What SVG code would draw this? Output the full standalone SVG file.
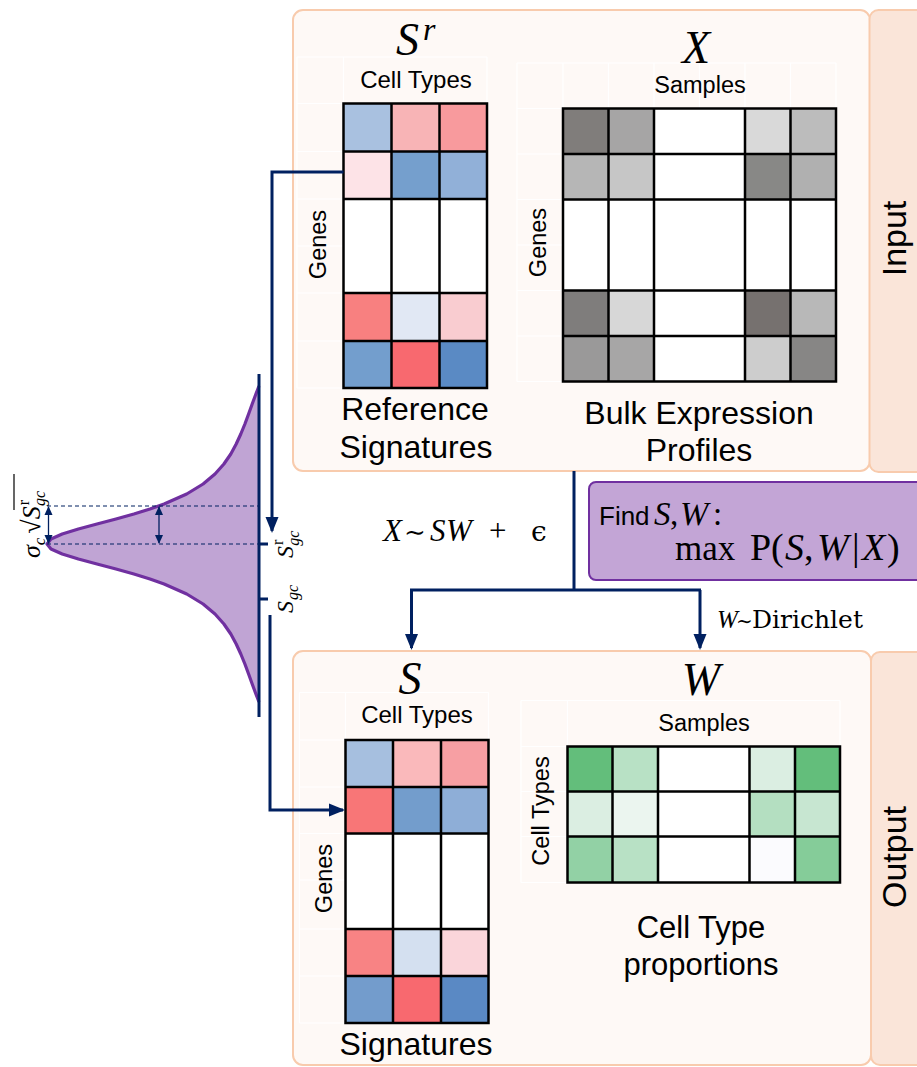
<svg xmlns="http://www.w3.org/2000/svg" width="917" height="1067" viewBox="0 0 917 1067">
<defs>
<style>
.panel{fill:#fef9f6;stroke:#f8cbad;stroke-width:2}
.tab{fill:#fae5d9;stroke:#f8cbad;stroke-width:2}
.grid{fill:none;stroke:#000;stroke-width:2.5;stroke-linecap:square}
.faint{fill:none;stroke:#ffffff;stroke-width:1.2}
.sans{font-family:"Liberation Sans",Arial,sans-serif;fill:#000}
.serif{font-family:"Liberation Serif","DejaVu Serif",serif;fill:#000}
.dserif{font-family:"DejaVu Serif","Liberation Serif",serif;fill:#000}
.it{font-style:italic}
.conn{fill:none;stroke:#002060;stroke-width:3}
.thin{fill:none;stroke:#002060;stroke-width:1.3}
.dash{fill:none;stroke:#002060;stroke-width:1.2;stroke-dasharray:4 3}
</style>
<marker id="arr" markerUnits="userSpaceOnUse" markerWidth="16" markerHeight="16" refX="14" refY="8" orient="auto">
<path d="M0,1.5 L16,8 L0,14.5 z" fill="#002060"/>
</marker>
<marker id="sarr" markerUnits="userSpaceOnUse" markerWidth="10" markerHeight="10" refX="8" refY="5" orient="auto-start-reverse">
<path d="M0,1 L9,5 L0,9 z" fill="#002060"/>
</marker>
</defs>

<g id="input-panel">
<rect class="panel" x="293" y="10" width="577" height="461" rx="10"/>
<rect class="tab" x="869.5" y="10" width="60" height="462" rx="9"/>
<text class="sans" font-size="34" text-anchor="middle" transform="translate(906,238.5) rotate(-90)">Input</text>
</g>

<g id="output-panel">
<rect class="panel" x="293" y="651" width="578" height="414" rx="10"/>
<rect class="tab" x="871" y="652" width="60" height="413" rx="9"/>
<text class="sans" font-size="34" text-anchor="middle" transform="translate(906,857) rotate(-90)">Output</text>
</g>

<g id="reference-signatures">
<path class="faint" d="M297,57H487M297,103.5H343.5M297,151.5H343.5M297,199H343.5M297,246H343.5M297,293H343.5M297,341H343.5M297,388H343.5M297,57V388M343.5,57V103.5M487,57V103.5"/>
<rect x="343.5" y="103.5" width="48" height="48" fill="#a9c1e0"/>
<rect x="391.5" y="103.5" width="48" height="48" fill="#f8b4b6"/>
<rect x="439.5" y="103.5" width="47.5" height="48" fill="#f89a9d"/>
<rect x="343.5" y="151.5" width="48" height="47.5" fill="#fde3e7"/>
<rect x="391.5" y="151.5" width="48" height="47.5" fill="#759fcd"/>
<rect x="439.5" y="151.5" width="47.5" height="47.5" fill="#91b0d8"/>
<rect x="343.5" y="199" width="143.5" height="94" fill="#ffffff"/>
<rect x="343.5" y="293" width="48" height="48" fill="#f88080"/>
<rect x="391.5" y="293" width="48" height="48" fill="#e1e8f4"/>
<rect x="439.5" y="293" width="47.5" height="48" fill="#f9ccd0"/>
<rect x="343.5" y="341" width="48" height="47" fill="#739ecd"/>
<rect x="391.5" y="341" width="48" height="47" fill="#f8696f"/>
<rect x="439.5" y="341" width="47.5" height="47" fill="#5a8ac4"/>
<path class="faint" d="M343.5,246H487"/>
<path class="grid" d="M343.5,103.5V388M391.5,103.5V388M439.5,103.5V388M487,103.5V388M343.5,103.5H487M343.5,151.5H487M343.5,199H487M343.5,293H487M343.5,341H487M343.5,388H487"/>
<text class="serif it" font-size="46" x="396" y="55">S<tspan font-size="32" dx="4" dy="-15">r</tspan></text>
<text class="sans" font-size="24" x="416" y="88" text-anchor="middle">Cell Types</text>
<text class="sans" font-size="23.5" text-anchor="middle" transform="translate(326,244.5) rotate(-90)">Genes</text>
<text class="sans" font-size="32" x="415" y="420" text-anchor="middle">Reference</text>
<text class="sans" font-size="32" x="416" y="457.5" text-anchor="middle">Signatures</text>
</g>

<g id="bulk-expression">
<path class="faint" d="M517,63H836M517,108.5H563M517,154H563M517,199.5H563M517,245H563M517,290.5H563M517,336H563M517,381.5H563M517,63V381.5M563,63V108.5M608.5,63V108.5M654,63V108.5M699.5,63V108.5M745,63V108.5M790.5,63V108.5M836,63V108.5"/>
<rect x="563" y="108.5" width="45.5" height="45.5" fill="#807d7b"/>
<rect x="608.5" y="108.5" width="45.5" height="45.5" fill="#a6a5a5"/>
<rect x="654" y="108.5" width="91" height="45.5" fill="#ffffff"/>
<rect x="745" y="108.5" width="45.5" height="45.5" fill="#d9d9d9"/>
<rect x="790.5" y="108.5" width="45.5" height="45.5" fill="#bcbcbc"/>
<rect x="563" y="154" width="45.5" height="45.5" fill="#b6b6b6"/>
<rect x="608.5" y="154" width="45.5" height="45.5" fill="#c6c6c6"/>
<rect x="654" y="154" width="91" height="45.5" fill="#ffffff"/>
<rect x="745" y="154" width="45.5" height="45.5" fill="#888886"/>
<rect x="790.5" y="154" width="45.5" height="45.5" fill="#b0b0b0"/>
<rect x="563" y="199.5" width="273" height="91" fill="#ffffff"/>
<rect x="563" y="290.5" width="45.5" height="45.5" fill="#7f7d7c"/>
<rect x="608.5" y="290.5" width="45.5" height="45.5" fill="#d7d7d7"/>
<rect x="654" y="290.5" width="91" height="45.5" fill="#ffffff"/>
<rect x="745" y="290.5" width="45.5" height="45.5" fill="#76716f"/>
<rect x="790.5" y="290.5" width="45.5" height="45.5" fill="#b8b8b8"/>
<rect x="563" y="336" width="45.5" height="45.5" fill="#9a9999"/>
<rect x="608.5" y="336" width="45.5" height="45.5" fill="#a7a6a6"/>
<rect x="654" y="336" width="91" height="45.5" fill="#ffffff"/>
<rect x="745" y="336" width="45.5" height="45.5" fill="#cdcdcd"/>
<rect x="790.5" y="336" width="45.5" height="45.5" fill="#878685"/>
<path class="faint" d="M699.5,108.5V381.5M563,245H836"/>
<path class="grid" d="M563,108.5V381.5M608.5,108.5V381.5M654,108.5V381.5M745,108.5V381.5M790.5,108.5V381.5M836,108.5V381.5M563,108.5H836M563,154H836M563,199.5H836M563,290.5H836M563,336H836M563,381.5H836"/>
<text class="serif it" font-size="46" x="696" y="63" text-anchor="middle">X</text>
<text class="sans" font-size="23.5" x="700" y="92.5" text-anchor="middle">Samples</text>
<text class="sans" font-size="23.5" text-anchor="middle" transform="translate(546,242.5) rotate(-90)">Genes</text>
<text class="sans" font-size="32" x="699" y="424" text-anchor="middle">Bulk Expression</text>
<text class="sans" font-size="32" x="699" y="461" text-anchor="middle">Profiles</text>
</g>

<g id="signatures">
<path class="faint" d="M299.5,692.5H488.5M299.5,740H345.5M299.5,787H345.5M299.5,833.5H345.5M299.5,880H345.5M299.5,929H345.5M299.5,976H345.5M299.5,1023H345.5M299.5,692.5V1023M345.5,692.5V740M488.5,692.5V740"/>
<rect x="345.5" y="740" width="47.5" height="47" fill="#a6bfdf"/>
<rect x="393" y="740" width="48" height="47" fill="#fab9bb"/>
<rect x="441" y="740" width="47.5" height="47" fill="#f79fa3"/>
<rect x="345.5" y="787" width="47.5" height="46.5" fill="#f87677"/>
<rect x="393" y="787" width="48" height="46.5" fill="#739dcc"/>
<rect x="441" y="787" width="47.5" height="46.5" fill="#8eaed7"/>
<rect x="345.5" y="833.5" width="143" height="95.5" fill="#ffffff"/>
<rect x="345.5" y="929" width="47.5" height="47" fill="#f88384"/>
<rect x="393" y="929" width="48" height="47" fill="#d4e0f0"/>
<rect x="441" y="929" width="47.5" height="47" fill="#fad5da"/>
<rect x="345.5" y="976" width="47.5" height="47" fill="#739ccc"/>
<rect x="393" y="976" width="48" height="47" fill="#f8696f"/>
<rect x="441" y="976" width="47.5" height="47" fill="#5a89c4"/>
<path class="faint" d="M345.5,880H488.5"/>
<path class="grid" d="M345.5,740V1023M393,740V1023M441,740V1023M488.5,740V1023M345.5,740H488.5M345.5,787H488.5M345.5,833.5H488.5M345.5,929H488.5M345.5,976H488.5M345.5,1023H488.5"/>
<text class="serif it" font-size="46" x="410" y="694" text-anchor="middle">S</text>
<text class="sans" font-size="24" x="417" y="723" text-anchor="middle">Cell Types</text>
<text class="sans" font-size="23.5" text-anchor="middle" transform="translate(332,878.5) rotate(-90)">Genes</text>
<text class="sans" font-size="32" x="416" y="1055" text-anchor="middle">Signatures</text>
</g>

<g id="proportions">
<path class="faint" d="M521,700.5H840M521,746.5H567.5M521,791.5H567.5M521,836.5H567.5M521,882.5H567.5M521,700.5V882.5M567.5,700.5V746.5M840,700.5V746.5"/>
<rect x="567.5" y="746.5" width="45" height="45" fill="#63be7b"/>
<rect x="612.5" y="746.5" width="45.5" height="45" fill="#b8e1c5"/>
<rect x="658" y="746.5" width="91.5" height="45" fill="#ffffff"/>
<rect x="749.5" y="746.5" width="45.5" height="45" fill="#dbeee2"/>
<rect x="795" y="746.5" width="45" height="45" fill="#63be7b"/>
<rect x="567.5" y="791.5" width="45" height="45" fill="#dbeee2"/>
<rect x="612.5" y="791.5" width="45.5" height="45" fill="#ebf5ef"/>
<rect x="658" y="791.5" width="91.5" height="45" fill="#ffffff"/>
<rect x="749.5" y="791.5" width="45.5" height="45" fill="#b4dfc1"/>
<rect x="795" y="791.5" width="45" height="45" fill="#c7e6d1"/>
<rect x="567.5" y="836.5" width="45" height="46" fill="#92d1a5"/>
<rect x="612.5" y="836.5" width="45.5" height="46" fill="#b8e1c5"/>
<rect x="658" y="836.5" width="91.5" height="46" fill="#ffffff"/>
<rect x="749.5" y="836.5" width="45.5" height="46" fill="#fbfbfe"/>
<rect x="795" y="836.5" width="45" height="46" fill="#85cc99"/>
<path class="faint" d="M703.5,746.5V882.5"/>
<path class="grid" d="M567.5,746.5V882.5M612.5,746.5V882.5M658,746.5V882.5M749.5,746.5V882.5M795,746.5V882.5M840,746.5V882.5M567.5,746.5H840M567.5,791.5H840M567.5,836.5H840M567.5,882.5H840"/>
<text class="serif it" font-size="46" x="701" y="695" text-anchor="middle">W</text>
<text class="sans" font-size="23.5" x="704" y="730.5" text-anchor="middle">Samples</text>
<text class="sans" font-size="23.5" text-anchor="middle" transform="translate(549,811) rotate(-90)">Cell Types</text>
<text class="sans" font-size="31" x="701" y="938" text-anchor="middle">Cell Type</text>
<text class="sans" font-size="31" x="701" y="975" text-anchor="middle">proportions</text>
</g>

<g id="objective">
<rect x="589" y="482" width="340" height="98" rx="7" fill="#c3a5d6" stroke="#7030a0" stroke-width="2"/>
<text font-size="33"><tspan class="sans" x="599" y="525" font-size="26">Find</tspan><tspan class="serif it" x="654" y="525">S</tspan><tspan class="serif" x="670" y="525">,</tspan><tspan class="serif it" x="680" y="525" font-size="34">W</tspan><tspan class="serif" x="713" y="525">:</tspan></text>
<text class="serif" font-size="38"><tspan x="675" y="560" font-size="35">max</tspan><tspan x="750" y="560">P</tspan><tspan x="771" y="560">(</tspan><tspan class="it" x="785" y="560">S</tspan><tspan x="804" y="560">,</tspan><tspan class="it" x="817" y="560">W</tspan><tspan x="852" y="560">|</tspan><tspan class="it" x="862" y="560">X</tspan><tspan x="887" y="560">)</tspan></text>
</g>

<g id="model-label">
<text class="serif" font-size="31"><tspan class="it" x="383" y="541">X</tspan><tspan x="404" y="541" font-size="26">∼</tspan><tspan class="it" x="430" y="541">S</tspan><tspan class="it" x="446" y="541">W</tspan><tspan x="489" y="541">+</tspan><tspan class="dserif" x="531" y="541" font-size="28">ϵ</tspan></text>
</g>

<g id="prior-label">
<text font-size="25"><tspan class="serif it" x="717" y="628">W</tspan><tspan class="dserif" x="736" y="628" font-size="20">∼</tspan><tspan class="dserif" x="752" y="628">Dirichlet</tspan></text>
</g>

<g id="distribution">
<path d="M259,386 L255.9,394 L252.2,404 L248.6,414 L244.9,424 L240.8,434 L236.2,444 L230.8,454 L223.9,464 L215,474 L203.1,484 L186.7,494 L164.1,504 L150,509 L133.9,514 L116,519 L97,524 L78.4,529 L62.2,534 L51,539 L47,544 L51,549 L62.2,554 L78.4,559 L97,564 L116,569 L133.9,574 L150,579 L164.1,584 L186.7,594 L203.1,604 L215,614 L223.9,624 L230.8,634 L236.2,644 L240.8,654 L244.9,664 L248.6,674 L252.2,684 L255.9,694 L259,702 Z" fill="#c0a4d4" stroke="none"/>
<path d="M259,386 L255.9,394 L252.2,404 L248.6,414 L244.9,424 L240.8,434 L236.2,444 L230.8,454 L223.9,464 L215,474 L203.1,484 L186.7,494 L164.1,504 L150,509 L133.9,514 L116,519 L97,524 L78.4,529 L62.2,534 L51,539 L47,544 L51,549 L62.2,554 L78.4,559 L97,564 L116,569 L133.9,574 L150,579 L164.1,584 L186.7,594 L203.1,604 L215,614 L223.9,624 L230.8,634 L236.2,644 L240.8,654 L244.9,664 L248.6,674 L252.2,684 L255.9,694 L259,702" fill="none" stroke="#7030a0" stroke-width="3.2" stroke-linejoin="round"/>
<path class="dash" d="M47,506H259M47,544H259"/>
<path class="thin" d="M48.5,507V543" marker-start="url(#sarr)" marker-end="url(#sarr)"/>
<path class="thin" d="M159,507V543" marker-start="url(#sarr)" marker-end="url(#sarr)"/>
<path class="conn" d="M259,374V717M259,544H268M259,599H268"/>
<text class="serif it" font-size="24" transform="translate(293,558) rotate(-90)">S<tspan font-style="normal" font-size="16" dx="1" dy="-10">r</tspan><tspan font-size="16" dx="-6" dy="16">gc</tspan></text>
<text class="serif it" font-size="24" transform="translate(293,613) rotate(-90)">S<tspan font-size="16" dx="1" dy="5">gc</tspan></text>
<text class="serif" font-size="26" transform="translate(40,558) rotate(-90)"><tspan class="it">σ</tspan><tspan class="it" font-size="17" dy="5">c</tspan><tspan dx="4" dy="-5">√</tspan><tspan class="it">S</tspan><tspan font-size="16" dx="1" dy="-11">r</tspan><tspan class="it" font-size="16" dx="-6" dy="16">gc</tspan></text>
<path d="M14,474V510" stroke="#000" stroke-width="1.2"/>
</g>

<g id="connectors">
<path class="conn" d="M343.5,172H272V531" marker-end="url(#arr)"/>
<path class="conn" d="M270,615V810H343" marker-end="url(#arr)"/>
<path class="conn" d="M574,471V590M410,590H701"/>
<path class="conn" d="M411.5,590V648" marker-end="url(#arr)"/>
<path class="conn" d="M700,590V648" marker-end="url(#arr)"/>
</g>
</svg>
